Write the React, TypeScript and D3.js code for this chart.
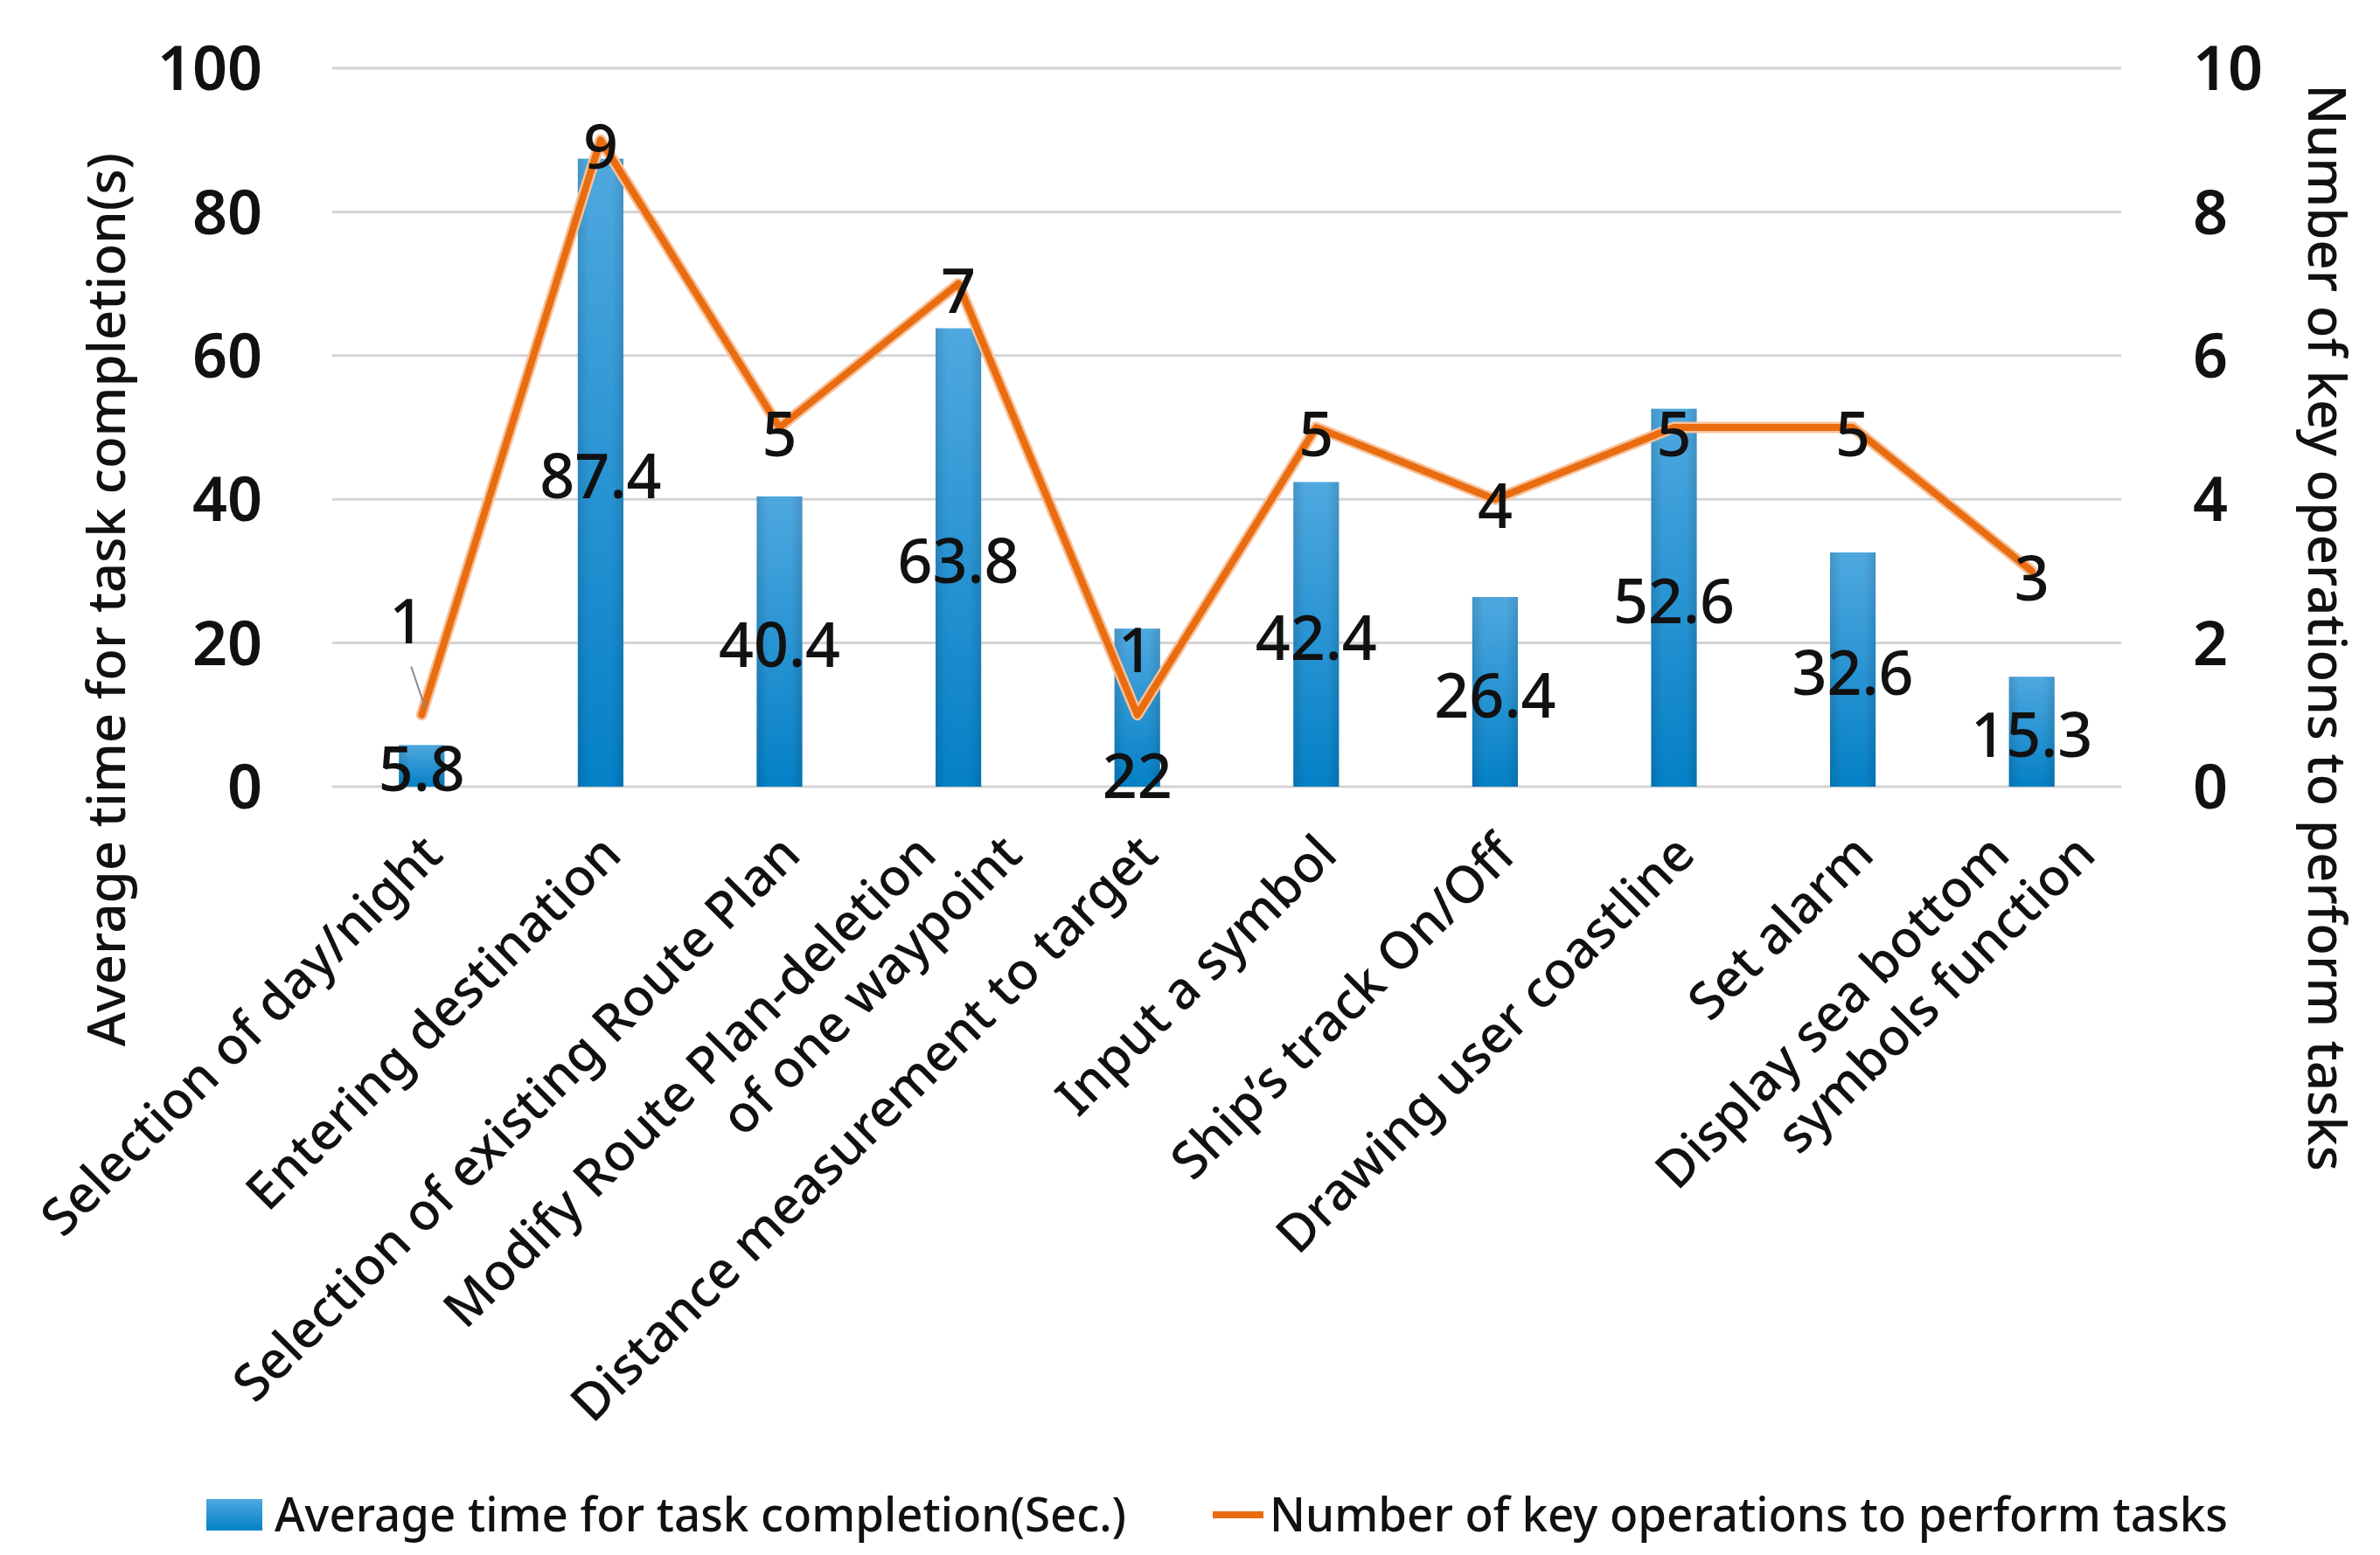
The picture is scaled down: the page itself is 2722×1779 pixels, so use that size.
import React from "react";
import * as d3 from "d3";

const categories: string[][] = [
  ["Selection of day/night"],
  ["Entering destination"],
  ["Selection of existing Route Plan"],
  ["Modify Route Plan-deletion", "of one waypoint"],
  ["Distance measurement to target"],
  ["Input a symbol"],
  ["Ship\u2019s track On/Off"],
  ["Drawing user coastline"],
  ["Set alarm"],
  ["Display sea bottom", "symbols function"],
];
const avgTime: number[] = [5.8, 87.4, 40.4, 63.8, 22, 42.4, 26.4, 52.6, 32.6, 15.3];
const keyOps: number[] = [1, 9, 5, 7, 1, 5, 4, 5, 5, 3];
const leftTicks: number[] = [0, 20, 40, 60, 80, 100];
const rightTicks: number[] = [0, 2, 4, 6, 8, 10];
const leftTitle = "Average time for task completion(s)";
const rightTitle = "Number of key operations to perform tasks";
const legendBar = "Average time for task completion(Sec.)";
const legendLine = "Number of key operations to perform tasks";

const W = 2722;
const H = 1779;
const FONT = "'Noto Sans', 'Open Sans', sans-serif";

export default function App() {
  const ids = categories.map((_, i) => String(i));
  const x = d3.scaleBand<string>().domain(ids).range([380, 2426]).padding(0);
  const yL = d3.scaleLinear().domain([0, 100]).range([900, 78]);
  const yR = d3.scaleLinear().domain([0, 10]).range([900, 78]);
  const bw = x.bandwidth() * 0.255;
  const cx = (i: number) => (x(String(i)) as number) + x.bandwidth() / 2;

  const line = d3
    .line<number>()
    .x((_, i) => cx(i))
    .y((d) => yR(d));
  const path = line(keyOps) || "";

  // label placement adjustments (pixels) for overlapping labels
  const lineLabelShift: Record<number, [number, number]> = { 0: [-17, -115], 4: [-2, -82] };
  const barLabelAtBase: Record<number, number> = { 4: -12 };

  return (
    <svg
      width={W}
      height={H}
      viewBox={`0 0 ${W} ${H}`}
      style={{ position: "absolute", left: 0, top: 0, background: "#fff" }}
      fontFamily={FONT}
    >
      <defs>
        <linearGradient id="barGrad" x1="0" y1="0" x2="0" y2="1">
          <stop offset="0" stopColor="#4fa8df" />
          <stop offset="1" stopColor="#0480c6" />
        </linearGradient>
        <linearGradient id="barGradH" x1="0" y1="0" x2="1" y2="0">
          <stop offset="0" stopColor="#000" stopOpacity="0.12" />
          <stop offset="0.25" stopColor="#000" stopOpacity="0" />
          <stop offset="0.75" stopColor="#000" stopOpacity="0" />
          <stop offset="1" stopColor="#000" stopOpacity="0.12" />
        </linearGradient>
      </defs>
      <rect width={W} height={H} fill="#fff" />
      {/* gridlines */}
      {leftTicks.map((t) => (
        <line key={t} x1={380} x2={2426} y1={yL(t)} y2={yL(t)} stroke="#d4d4d4" strokeWidth={3} />
      ))}
      {/* left ticks */}
      {leftTicks.map((t) => (
        <text key={"l" + t} x={300} y={yL(t)} dy="0.36em" textAnchor="end" fontSize={70} fontWeight={600} fill="#111">
          {t}
        </text>
      ))}
      {/* right ticks */}
      {rightTicks.map((t) => (
        <text key={"r" + t} x={2508} y={yR(t)} dy="0.36em" textAnchor="start" fontSize={70} fontWeight={600} fill="#111">
          {t}
        </text>
      ))}
      {/* axis titles */}
      <text
        transform={`translate(122,686) rotate(-90)`}
        textAnchor="middle"
        dy="0.35em"
        fontSize={60}
        fontWeight={500}
        fill="#111"
      >
        {leftTitle}
      </text>
      <text
        transform={`translate(2661,718) rotate(90)`}
        textAnchor="middle"
        dy="0.35em"
        fontSize={60}
        fontWeight={500}
        fill="#111"
      >
        {rightTitle}
      </text>
      {/* bars */}
      {avgTime.map((v, i) => (
        <g key={"b" + i}>
          <rect x={cx(i) - bw / 2} y={yL(v)} width={bw} height={yL(0) - yL(v)} fill="url(#barGrad)" />
          <rect x={cx(i) - bw / 2} y={yL(v)} width={bw} height={yL(0) - yL(v)} fill="url(#barGradH)" />
        </g>
      ))}
      {/* line */}
      <path d={path} fill="none" stroke="#f6c29b" strokeWidth={13} strokeLinejoin="round" strokeLinecap="round" />
      <path d={path} fill="none" stroke="#e96d10" strokeWidth={8} strokeLinejoin="round" strokeLinecap="round" />
      {/* leader line for first point label */}
      <line
        x1={cx(0) - 12}
        y1={yR(keyOps[0]) - 55}
        x2={cx(0) + 4}
        y2={yR(keyOps[0]) - 8}
        stroke="#888"
        strokeWidth={2}
      />
      {/* bar labels */}
      {avgTime.map((v, i) => {
        const y = barLabelAtBase[i] !== undefined ? yL(0) + barLabelAtBase[i] : yL(v / 2) + 4;
        return (
          <text key={"bl" + i} x={cx(i)} y={y} dy="0.36em" textAnchor="middle" fontSize={70} fontWeight={500} fill="#111">
            {v}
          </text>
        );
      })}
      {/* line labels */}
      {keyOps.map((v, i) => {
        const s = lineLabelShift[i] || [0, 0];
        return (
          <text
            key={"ll" + i}
            x={cx(i) + s[0]}
            y={yR(v) + 8 + s[1]}
            dy="0.36em"
            textAnchor="middle"
            fontSize={70}
            fontWeight={500}
            fill="#111"
          >
            {v}
          </text>
        );
      })}
      {/* category labels */}
      {categories.map((lines, i) =>
        lines.map((ln, j) => {
          const ex = cx(i) + 12 + (j - (lines.length - 1) / 2) * 98;
          const ey = 966;
          return (
            <text
              key={"c" + i + "_" + j}
              transform={`translate(${ex},${ey}) rotate(-45)`}
              textAnchor="end"
              dy="0.35em"
              fontSize={59}
              fontWeight={500}
              fill="#111"
            >
              {ln}
            </text>
          );
        })
      )}
      {/* legend */}
      <rect x={236} y={1715} width={64} height={36} fill="url(#barGrad)" />
      <text x={314} y={1733} dy="0.35em" fontSize={54} fontWeight={500} fill="#111" textLength={974} lengthAdjust="spacingAndGlyphs">
        {legendBar}
      </text>
      <line x1={1387} x2={1445} y1={1733} y2={1733} stroke="#e96d10" strokeWidth={8} />
      <text x={1452} y={1733} dy="0.35em" fontSize={54} fontWeight={500} fill="#111" textLength={1096} lengthAdjust="spacingAndGlyphs">
        {legendLine}
      </text>
    </svg>
  );
}
